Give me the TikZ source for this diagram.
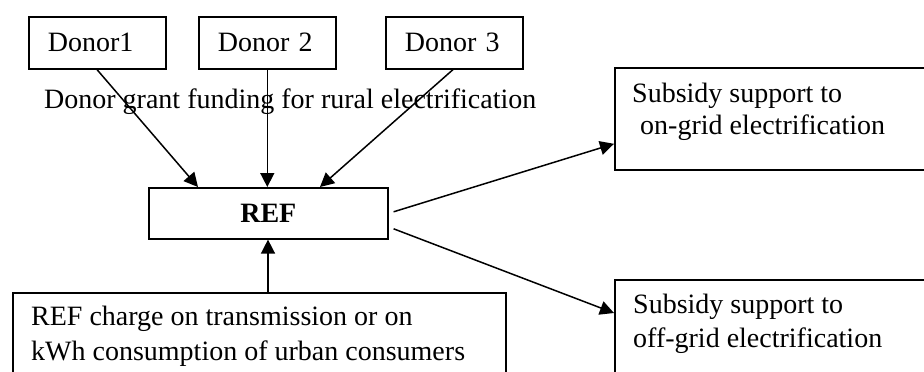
\documentclass[tikz,border=0pt]{standalone}
\usepackage{fontspec}
\setmainfont{Liberation Serif}
\usetikzlibrary{arrows.meta}
\begin{document}
\begin{tikzpicture}[x=1pt,y=-1pt,
  box/.style={draw, line width=1.6pt, inner sep=0pt},
  donor/.style={box, minimum height=52pt, text width=99pt, inner xsep=19pt, align=left, font=\fontsize{28}{33}\selectfont},
  txt/.style={anchor=base west, inner sep=0pt, font=\fontsize{28}{33}\selectfont},
  arr/.style={line width=1.5pt, -{Triangle[length=14pt,width=14pt]}}]
\useasboundingbox (0,0) rectangle (924,372);
\fill[white] (0,0) rectangle (924,372);
\clip (0,0) rectangle (924,372);
% boxes
\node[donor, anchor=north west] (d1) at (28,16) {Donor1};
\node[donor, anchor=north west] (d2) at (198,16) {Donor 2};
\node[donor, anchor=north west] (d3) at (385,16) {Donor 3};
\node[box, anchor=north west, minimum width=239pt, minimum height=51pt, font=\fontsize{28}{33}\selectfont\bfseries] (ref) at (148,187) {REF};
\node[box, anchor=north west, minimum width=330pt, minimum height=102pt] (on) at (614,67) {};
\node[box, anchor=north west, minimum width=330pt, minimum height=120pt] (off) at (614,279) {};
\node[box, anchor=north west, minimum width=493pt, minimum height=110pt] (ch) at (12,292) {};
% texts
\node[txt] (lab) at (44,108) {Donor grant funding for rural electrification};
\node[txt] (on1) at (632,102) {Subsidy support to};
\node[txt] (on2) at (640,134) {on-grid electrification};
\node[txt] (off1) at (633,313) {Subsidy support to};
\node[txt] (off2) at (633,347) {off-grid electrification};
\node[txt] (ch1) at (31,325) {REF charge on transmission or on};
\node[txt] (ch2) at (31,360) {kWh consumption of urban consumers};
% connectors
\draw[arr] ([xshift=69pt]d1.south west) -- ([xshift=50pt]ref.north west);
\draw[arr] (d2.south) -- (d2.south |- ref.north);
\draw[arr] ([xshift=68pt]d3.south west) -- ([xshift=172pt]ref.north west);
\draw[arr] ([xshift=5pt,yshift=1.5pt]ref.east) -- ([yshift=-25pt]on.west);
\draw[arr] ([xshift=5pt,yshift=-15.5pt]ref.east) -- ([yshift=-34pt]off.north west);
\draw[arr] ([xshift=256pt]ch.north west) -- ([xshift=120pt]ref.south west);
\end{tikzpicture}
\end{document}
